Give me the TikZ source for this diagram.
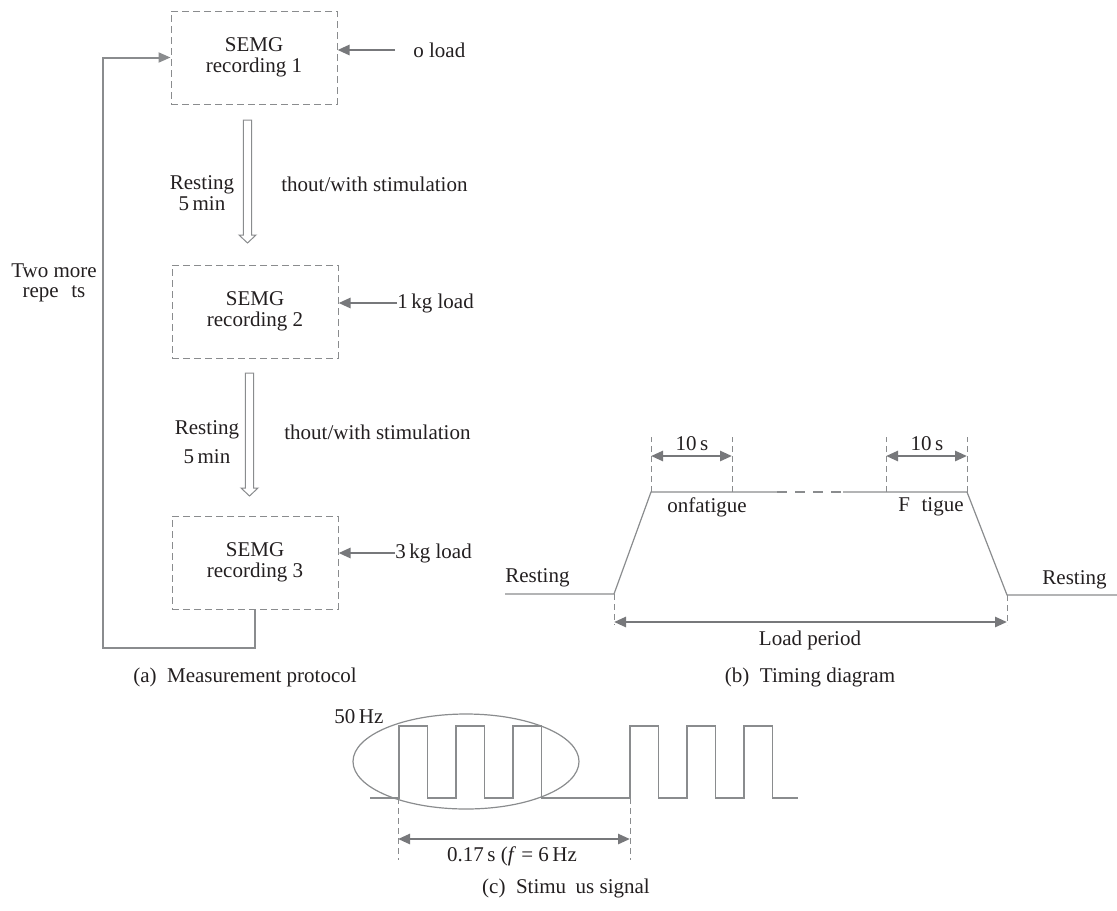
\documentclass[tikz,border=0pt]{standalone}
\usepackage{fontspec}
\setmainfont{Liberation Serif}
\usetikzlibrary{arrows.meta,calc}

\definecolor{linegray}{HTML}{8A8C8E}
\definecolor{arrowgray}{HTML}{77787B}
\definecolor{inkblack}{HTML}{231F20}

% hollow arrow between two coordinates
\newcommand{\hollowarrow}[2]{\draw[restline] ($(#1)+(-4.2,0)$) -- ($(#1)+(4.2,0)$) -- ($(#2)+(4.2,-8)$) -- ($(#2)+(8.5,-8)$) -- (#2) -- ($(#2)+(-8.5,-8)$) -- ($(#2)+(-4.2,-8)$) -- cycle;}

\begin{document}
\begin{tikzpicture}[x=0.5pt, y=-0.5pt, font=\fontsize{10.5}{10.5}\selectfont, text=inkblack,
  every node/.style={inner sep=0pt},
  recbox/.style={draw=linegray, line width=0.5pt, dash pattern=on 3.5pt off 2pt, minimum width=83pt, minimum height=46.5pt, align=center},
  loadarrow/.style={draw=arrowgray, line width=1.3pt, -{Triangle[length=6pt,width=5pt]}},
  looppath/.style={draw=linegray, line width=1pt, -{Triangle[length=6pt,width=5pt]}},
  restline/.style={draw=linegray, line width=0.5pt},
  sig/.style={draw=linegray, line width=0.6pt},
  guide/.style={draw=linegray, line width=0.5pt, dash pattern=on 3pt off 2pt},
  span/.style={draw=arrowgray, line width=1.3pt, {Triangle[length=6pt,width=5pt]}-{Triangle[length=6pt,width=5pt]}}]
\useasboundingbox (0,0) rectangle (1117,910);

% (a) protocol
\node[recbox] (rec1) at (254,57.5) {SEMG\\recording 1};
\node[recbox] (rec2) at (255,311.5) {SEMG\\recording 2};
\node[recbox] (rec3) at (255,562.5) {SEMG\\recording 3};

\node[anchor=west] (load1) at (395,50) {\hspace*{9pt}o load};
\node[anchor=west] (load2) at (397,303) {1\,kg load};
\node[anchor=west] (load3) at (395,553) {3\,kg load};
\draw[loadarrow] (load1.west) -- (load1.west -| rec1.east);
\draw[loadarrow] (load2.west) -- (load2.west -| rec2.east);
\draw[loadarrow] (load3.west) -- (load3.west -| rec3.east);

\coordinate (rest1a) at (247.5,120);
\coordinate (rest1b) at (247.5,243);
\coordinate (rest2a) at (249.5,373);
\coordinate (rest2b) at (249.5,496);
\hollowarrow{rest1a}{rest1b}
\hollowarrow{rest2a}{rest2b}

\node[align=center] (rest1) at (202,193) {Resting\\5\,min};
\node[align=center] (rest2) at (207,442.5) {Resting\\[4pt]5\,min};
\node[anchor=west] (stim1) at (281,184) {thout/with stimulation};
\node[anchor=west] (stim2) at (284,432) {thout/with stimulation};

\coordinate (loopcorner) at (103,648);
\draw[looppath] (rec3.south) |- (loopcorner) |- (rec1.west);
\node[align=center] (repeats) at (54,283) {Two more\\[-0.5pt]repe\hspace{0.6em}ts};

\node (capa) at (245,677) {(a)\enspace Measurement protocol};

% (b) timing
\coordinate (r0) at (505,594);
\coordinate (up0) at (614,594);
\coordinate (top0) at (651,492);
\coordinate (top1) at (777,492);
\coordinate (top2) at (843,492);
\coordinate (top3) at (967,492);
\coordinate (dn0) at (1007,595);
\coordinate (r1) at (1117,595);
\draw[sig] (r0) -- (up0) -- (top0) -- (top1);
\draw[sig, dash pattern=on 5pt off 4pt] (top1) -- (top2);
\draw[sig] (top2) -- (top3) -- (dn0) -- (r1);

\coordinate (m1) at (732,492);
\coordinate (m2) at (886,492);
\draw[guide] (top0) -- ++(0,-55) coordinate (g0);
\draw[guide] (m1) -- ++(0,-55) coordinate (g1);
\draw[guide] (m2) -- ++(0,-55) coordinate (g2);
\draw[guide] (top3) -- ++(0,-55) coordinate (g3);
\draw[span] ($(g0)+(0,19)$) -- ($(g1)+(0,19)$);
\draw[span] ($(g2)+(0,19)$) -- ($(g3)+(0,19)$);
\node (ten1) at (692,444) {10\,s};
\node (ten2) at (927,444) {10\,s};

\node[anchor=west] (nonfat) at (667,507) {onfatigue};
\node[anchor=west] (fat) at (898,507) {F\hspace{0.55em}tigue};
\node[anchor=west] (restl) at (505,578) {Resting};
\node[anchor=west] (restr) at (1042,580) {Resting};

\draw[guide] (up0) -- ++(0,31) coordinate (lp0);
\draw[guide] (dn0) -- ++(0,30) coordinate (lp1);
\draw[span] ($(lp0)+(0,-3)$) -- ($(lp1)+(0,-3)$);
\node (loadper) at (810,640) {Load period};

\node (capb) at (810,677) {(b)\enspace Timing diagram};

% (c) stimulus
\draw[sig] (370,798) foreach \x in {399,456,513,630,687,744} { -- (\x,798) -- (\x,726) -- ++(28.5,0) -- ++(0,72) } -- (798,798);
\draw[sig] (466,761.5) ellipse [x radius=56.5pt, y radius=23.75pt];
\node[anchor=west] (fifty) at (334,717) {50\,Hz};

\coordinate (p0) at (398,798);
\coordinate (p1) at (630,798);
\draw[guide] (p0) -- ++(0,62);
\draw[guide] (p1) -- ++(0,62);
\draw[span] ($(p0)+(0,41)$) -- ($(p1)+(0,41)$);
\node (period) at (512,856) {0.17\,s (\textit{f} = 6\,Hz};

\node (capc) at (566,888) {(c)\enspace Stimu\hspace{0.45em}us signal};
\end{tikzpicture}
\end{document}
